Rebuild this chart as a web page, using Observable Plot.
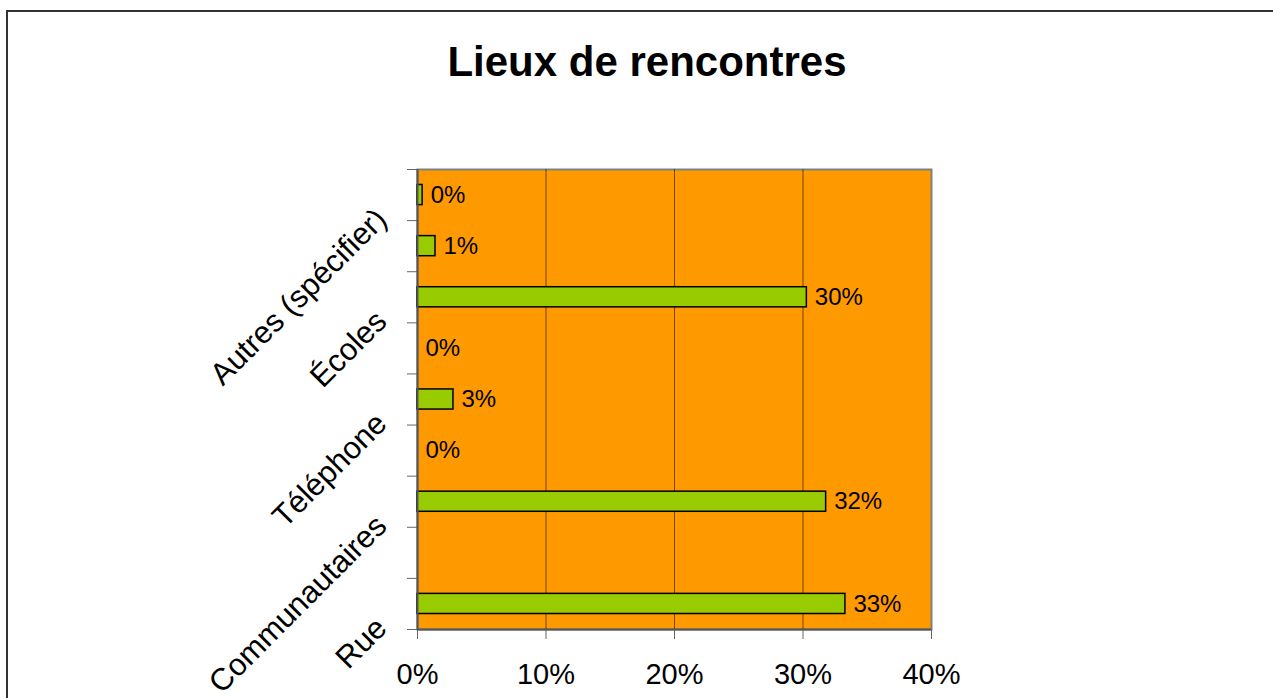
<!DOCTYPE html>
<html><head><meta charset="utf-8">
<script src="https://cdn.jsdelivr.net/npm/d3@7"></script>
<script src="https://cdn.jsdelivr.net/npm/@observablehq/plot@0.6"></script>
<style>
html,body{margin:0;padding:0;background:#fff;overflow:hidden}
#wrap{position:relative;width:1273px;height:698px;overflow:hidden;font-family:"Liberation Sans",Arial,sans-serif}
#border{position:absolute;left:6px;top:10px;width:1300px;height:720px;border:2px solid #333;box-sizing:border-box}
#title{position:absolute;left:0;width:1294px;top:41px;line-height:42px;text-align:center;font-weight:bold;font-size:42px;color:#000}
#chart{position:absolute;left:0;top:0}
</style>
</head><body>
<div id="wrap">
  <div id="border"></div>
  <div id="title">Lieux de rencontres</div>
  <div id="chart"></div>
</div>
<script>
// Categories from bottom to top (Excel only prints every other label)
const categories = ["Rue", "", "Communautaires", "", "Téléphone", "", "Écoles", "", "Autres (spécifier)"];
const values = [33.3, null, 31.8, 0, 2.8, 0, 30.3, 1.4, 0.4];
const xTicks = [0, 10, 20, 30, 40];

const rows = categories.map((cat, i) => ({cat, i, v: values[i]}));
const bounds = d3.range(categories.length + 1);

const chart = Plot.plot({
  width: 1273,
  height: 698,
  marginLeft: 417,
  marginRight: 342,
  marginTop: 169,
  marginBottom: 69,
  style: {fontFamily: '"Liberation Sans", Arial, sans-serif', background: "transparent", color: "#000"},
  x: {domain: [0, 40], label: null},
  y: {domain: [0, categories.length], label: null},
  marks: [
    Plot.frame({fill: "#FF9900", stroke: "#808080", strokeWidth: 2}),
    Plot.ruleX(xTicks.filter(t => t > 0 && t < 40), {stroke: "#000", strokeOpacity: 0.55, strokeWidth: 1}),
    Plot.rectX(rows.filter(d => d.v != null && d.v > 0), {
      x1: 0, x2: "v", y1: "i", y2: d => d.i + 1,
      insetTop: 15.5, insetBottom: 15.5,
      fill: "#99CC00", stroke: "#000", strokeWidth: 1.5
    }),
    Plot.text(rows.filter(d => d.v != null), {
      x: "v", y: d => d.i + 0.5,
      text: d => Math.round(d.v) + "%",
      textAnchor: "start", dx: 8, fontSize: 24, fill: "#000"
    }),
    Plot.axisX({ticks: xTicks, tickFormat: d => d + "%", tickSize: 10, tickPadding: 24, fontSize: 29, stroke: "#666", fill: "#000", label: null}),
    Plot.axisY({ticks: bounds, tickSize: 10, tickFormat: () => "", stroke: "#666", label: null}),
    Plot.ruleX([0], {stroke: "#555", strokeWidth: 2}),
    Plot.ruleY([0], {stroke: "#555", strokeWidth: 2}),
    Plot.text(rows.filter(d => d.cat), {
      frameAnchor: "left", y: d => d.i + 0.5, text: "cat",
      rotate: -45, textAnchor: "end", lineAnchor: "middle",
      dx: -36, dy: 19, fontSize: 31, fill: "#000"
    })
  ]
});
document.getElementById("chart").appendChild(chart);
</script>
</body></html>
